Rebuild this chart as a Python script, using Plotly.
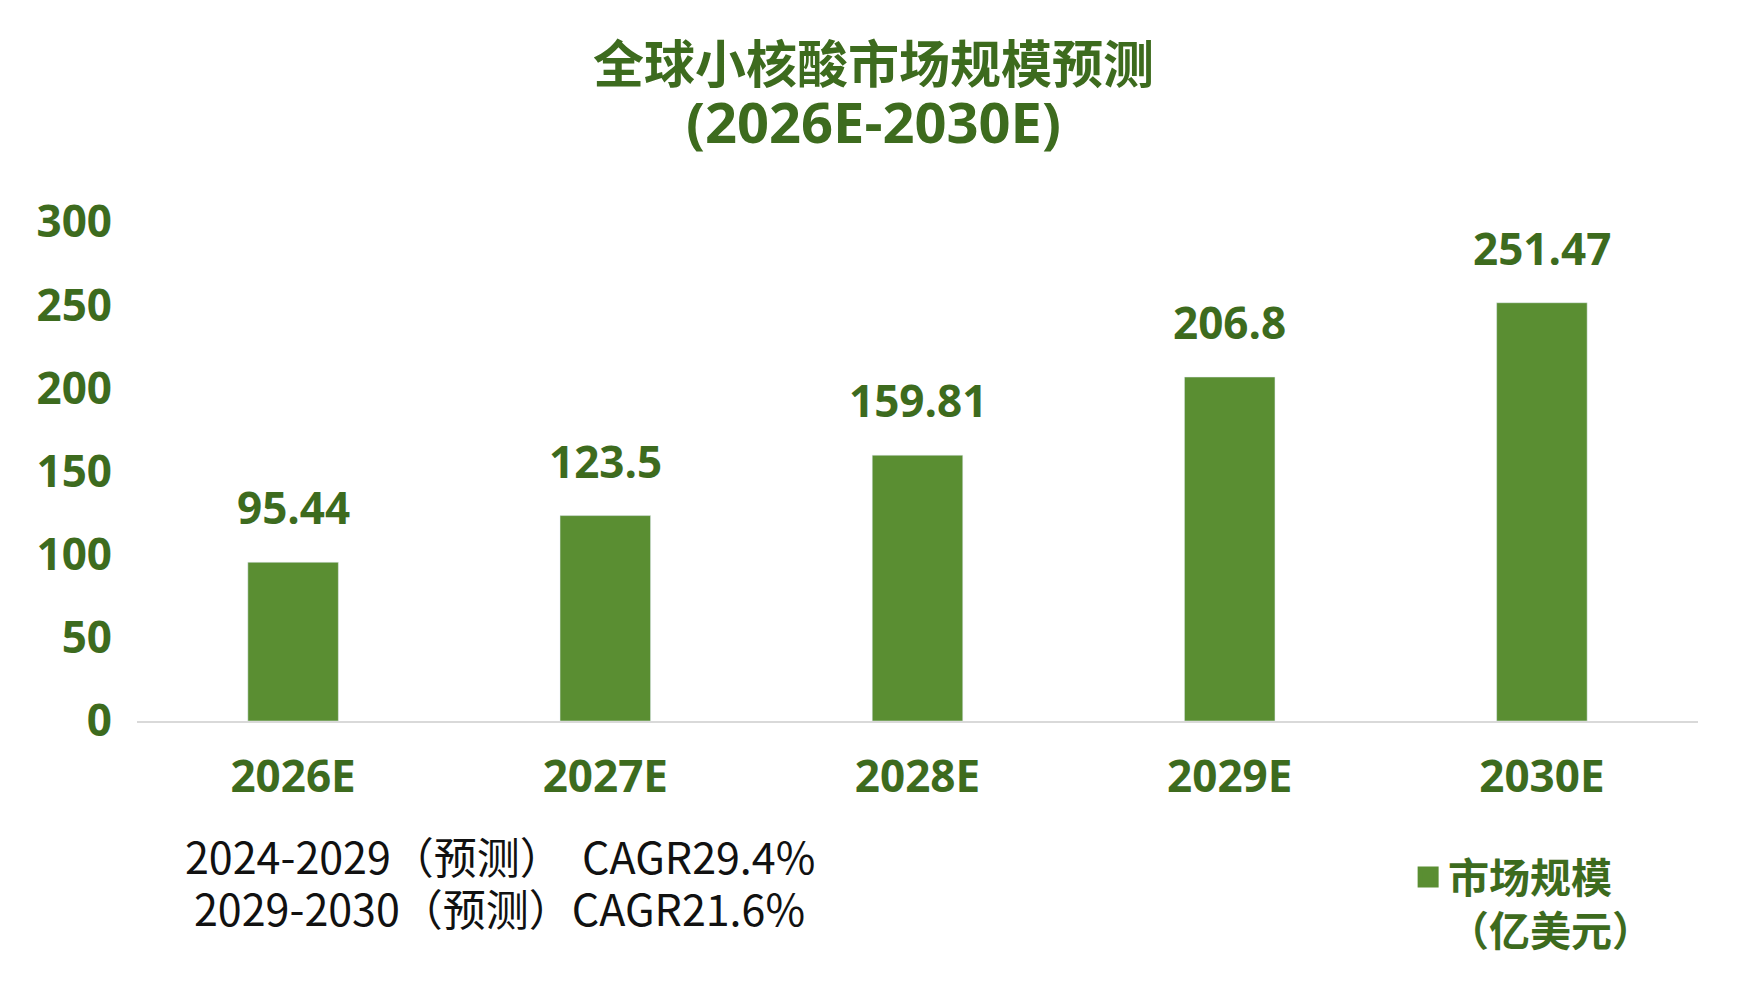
import plotly.graph_objects as go

# data
years = ["2026E", "2027E", "2028E", "2029E", "2030E"]
market_size = [95.44, 123.5, 159.81, 206.8, 251.47]
value_labels = ["95.44", "123.5", "159.81", "206.8", "251.47"]
y_ticks = [0, 50, 100, 150, 200, 250, 300]
cagr_notes = ["2024-2029（预测）  CAGR29.4%", "2029-2030（预测）CAGR21.6%"]

bar_color = "#5A8E32"
text_green = "#3D6B1E"
bold_font = "Open Sans, Noto Sans CJK SC, sans-serif"

fig = go.Figure()
fig.add_trace(go.Bar(
    x=years,
    y=market_size,
    marker_color=bar_color,
    width=0.29,
    showlegend=False,
))
# legend entry only (bigger square than the default bar swatch)
fig.add_trace(go.Scatter(
    x=[None], y=[None], mode="markers",
    name="市场规模<br>（亿美元）",
    marker=dict(symbol="square", size=16, color=bar_color,
                line=dict(width=5, color=bar_color)),
))

# value labels above the bars
for yr, v, lab in zip(years, market_size, value_labels):
    fig.add_annotation(x=yr, y=v, text=f"<b>{lab}</b>", showarrow=False,
                       xanchor="center", yanchor="middle", yshift=55,
                       font=dict(family=bold_font, size=44, color=text_green))

# two-line title
fig.add_annotation(xref="paper", yref="paper", x=0.472, y=1.3226,
                   xanchor="center", yanchor="middle",
                   text="<b>全球小核酸市场规模预测</b>", showarrow=False,
                   font=dict(family="Noto Sans CJK SC", size=51, color=text_green))
fig.add_annotation(xref="paper", yref="paper", x=0.472, y=1.203,
                   xanchor="center", yanchor="middle",
                   text="<b>(2026E-2030E)</b>", showarrow=False,
                   font=dict(family=bold_font, size=56, color=text_green))

# CAGR notes under the axis
for i, note in enumerate(cagr_notes):
    fig.add_annotation(xref="paper", yref="paper", x=0.2325, y=-0.2685 - 0.104 * i,
                       xanchor="center", yanchor="middle",
                       text=note, showarrow=False,
                       font=dict(family="Noto Sans CJK SC", size=43, color="#111111"))

fig.update_layout(
    width=1748, height=993,
    margin=dict(l=129, r=58, t=214, b=280),
    plot_bgcolor="white", paper_bgcolor="white",
    legend=dict(x=0.8143, y=-0.246, xanchor="left", yanchor="top",
                valign="top", itemsizing="trace",
                font=dict(family="Noto Sans CJK SC", size=41, color=text_green,
                          weight="bold")),
    xaxis=dict(showgrid=False, showline=True, linecolor="#D9D9D9", linewidth=2,
               ticks="", ticklabelstandoff=16,
               tickfont=dict(family=bold_font, size=44, color=text_green, weight="bold")),
    yaxis=dict(range=[0, 300], tickvals=y_ticks, showgrid=False, showline=False,
               zeroline=False, ticks="", ticklabelstandoff=24,
               tickfont=dict(family=bold_font, size=44, color=text_green, weight="bold")),
)

fig.write_html("out.html")
